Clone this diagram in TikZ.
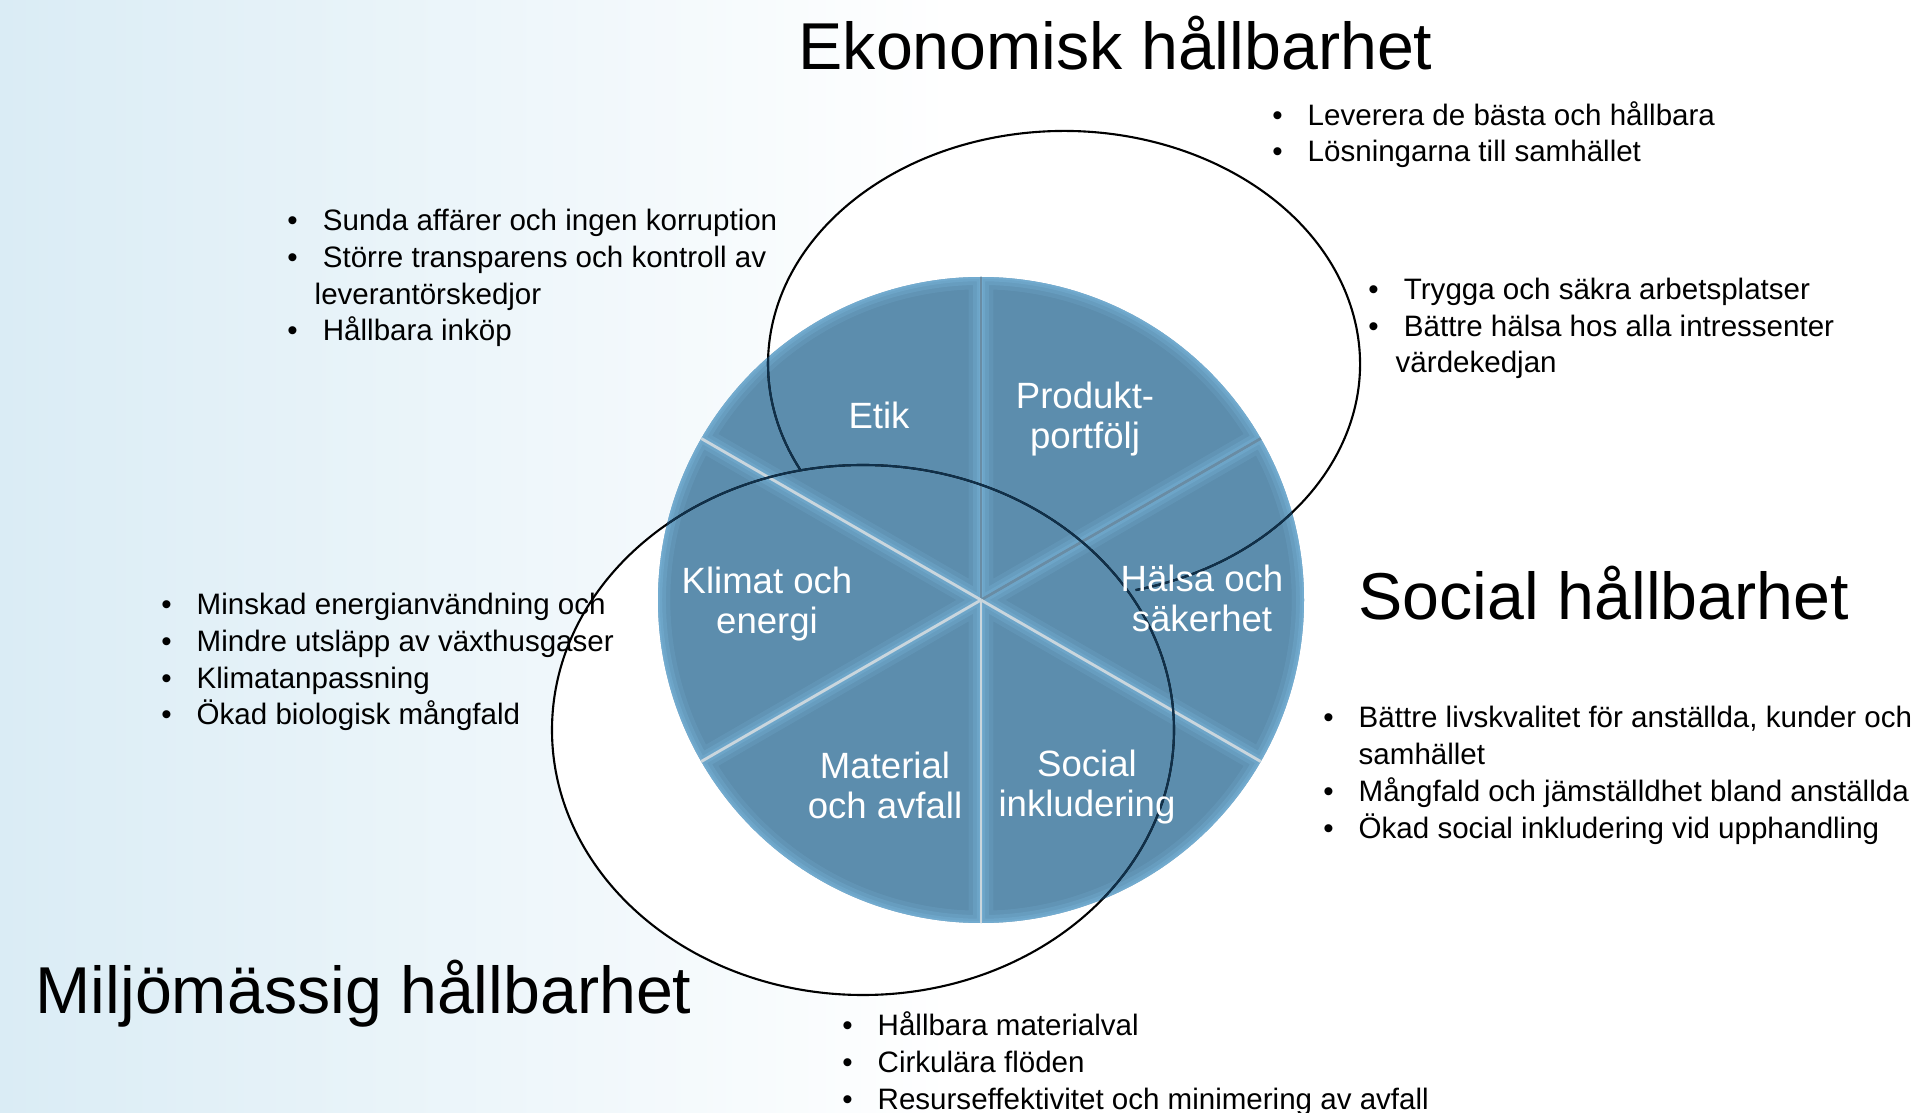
\documentclass[tikz,border=0pt]{standalone}
\usepackage{fontspec}
\setmainfont{Liberation Sans}
\usetikzlibrary{positioning,calc}

\definecolor{bgblue}{RGB}{218,236,245}
\definecolor{pieblue}{RGB}{92,141,173}
\definecolor{pieedge}{RGB}{120,178,215}
\definecolor{seplight}{RGB}{202,214,221}
\definecolor{sepdark}{RGB}{105,140,164}
\definecolor{ringnavy}{RGB}{16,48,74}

\newcommand{\bul}[1][7.1pt]{\llap{\textbullet\hspace{#1}}}

\tikzset{
  title/.style={anchor=base west,inner sep=0pt,font=\fontsize{18.85}{23}\selectfont},
  bullets/.style={anchor=base west,inner sep=0pt,align=left,font=\fontsize{8.4}{10.5}\selectfont},
  sector/.style={anchor=base,inner sep=0pt,align=center,text=white,font=\fontsize{10.4}{11.4}\selectfont},
  ring/.style={line width=0.6pt}
}

\begin{document}
\begin{tikzpicture}[x=0.01cm,y=-0.01cm]
\fill[white] (0,0) rectangle (1927,1113);
\shade[left color=bgblue,right color=white] (0,0) rectangle (950,1113);
\useasboundingbox (0,0) rectangle (1927,1113);

\coordinate (pc) at (981,600);
\coordinate (ec) at (1064,364);
\coordinate (mc) at (863,730);

\fill[white] (ec) ellipse [x radius=296,y radius=233];
\fill[white] (mc) ellipse [x radius=311,y radius=265];

\foreach \a in {-90,-30,...,210}{
  \begin{scope}
    \clip (pc) -- ++(\a:323) arc[start angle=\a,delta angle=60,radius=323] -- cycle;
    \fill[pieblue] (pc) circle[radius=330];
    \foreach \w/\o in {7/0.2,4.5/0.3,2.4/0.4,1/0.5}
      \draw[pieedge,opacity=\o,line width=\w pt] (pc) -- ++(\a:323) arc[start angle=\a,delta angle=60,radius=323] -- cycle;
  \end{scope}
}
\foreach \a/\c in {-90/sepdark,-30/sepdark,30/seplight,90/seplight,150/seplight,210/seplight}
  \draw[\c,line width=0.8pt] (pc) -- ++(\a:323);

\draw[ring] (ec) ++(76:296 and 233) arc[start angle=76,end angle=-207,x radius=296,y radius=233];
\draw[ring] (mc) ellipse [x radius=311,y radius=265];
\begin{scope}
  \clip (pc) circle[radius=323];
  \draw[ring,ringnavy] (ec) ++(76:296 and 233) arc[start angle=76,end angle=-207,x radius=296,y radius=233];
  \draw[ring,ringnavy] (mc) ellipse [x radius=311,y radius=265];
\end{scope}

\node[title] (eko) at (798,70) {Ekonomisk hållbarhet};
\node[title] (soc) at (1358,620) {Social hållbarhet};
\node[title] (milj) at (35,1013) {Miljömässig hållbarhet};

\node[sector] (etik) at (879,429) {Etik};
\node[sector] (produkt) at (1085,449) {Produkt-\\portfölj};
\node[sector] (klimat) at (767,634) {Klimat och\\energi};
\node[sector] (halsa) at (1202,632) {Hälsa och\\säkerhet};
\node[sector] (material) at (885,819) {Material\\och avfall};
\node[sector] (inkl) at (1087,817) {Social\\inkludering};

\node[bullets] (produktlist) at (1307,162) {\bul Leverera de bästa och hållbara\\\bul Lösningarna till samhället};
\node[bullets] (halsalist) at (1395,373) {\bul[4.8pt]~Trygga och säkra arbetsplatser\\\bul[4.8pt]~Bättre hälsa hos alla intressenter\\värdekedjan};
\node[bullets] (etiklist) at (314,341) {\bul[4.8pt]~Sunda affärer och ingen korruption\\\bul[4.8pt]~Större transparens och kontroll av\\leverantörskedjor\\\bul[4.8pt]~Hållbara inköp};
\node[bullets] (klimatlist) at (196,725) {\bul Minskad energianvändning och\\\bul Mindre utsläpp av växthusgaser\\\bul Klimatanpassning\\\bul Ökad biologisk mångfald};
\node[bullets] (inkllist) at (1358,838) {\bul Bättre livskvalitet för anställda, kunder och\\samhället\\\bul Mångfald och jämställdhet bland anställda\\\bul Ökad social inkludering vid upphandling};
\node[bullets] (materiallist) at (877,1109) {\bul Hållbara materialval\\\bul Cirkulära flöden\\\bul Resurseffektivitet och minimering av avfall};
\end{tikzpicture}
\end{document}
